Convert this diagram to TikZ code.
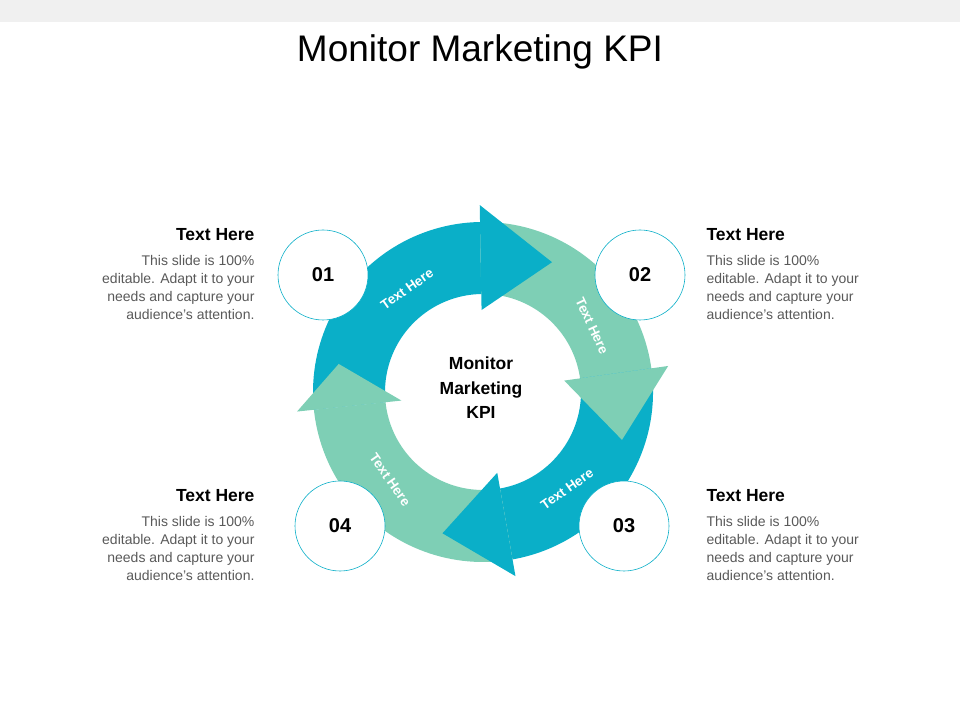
\documentclass[tikz,border=0pt]{standalone}
\usepackage{fontspec}
\setmainfont{Liberation Sans}
\definecolor{kpiblue}{HTML}{0AAFC8}
\definecolor{kpigreen}{HTML}{7ECFB5}
\definecolor{kpitext}{HTML}{595959}
\newcommand{\ringbody}[3]{\fill[#1] (#2:170pt) arc[start angle=#2, end angle=#3, radius=170pt] -- (#3:98pt) arc[start angle=#3, end angle=#2, radius=98pt] -- cycle;}
\newcommand{\ringhead}[3]{\fill[#1] (#2:187pt) -- (#3:147pt) -- (#2:82pt) -- cycle;}
\begin{document}
\begin{tikzpicture}[
    x=1pt, y=1pt,
    numcircle/.style={circle, draw=kpiblue, line width=0.6pt, fill=white, minimum size=90pt, font=\fontsize{20}{24}\selectfont\bfseries},
    heading/.style={font=\fontsize{17.5}{20}\selectfont\bfseries},
    para/.style={font=\fontsize{14}{18}\selectfont, text=kpitext},
    arclabel/.style={text=white, font=\fontsize{13.5}{15}\selectfont\bfseries}
]
\useasboundingbox (0,0) rectangle (960,720);
\fill[black!6] (0,698) rectangle (960,720);

% Title
\node[font=\fontsize{37}{42}\selectfont] (title) at (480,668) {Monitor Marketing KPI};

% Ring of arrows
\begin{scope}[shift={(483,328)}]
\ringbody{kpiblue}{186}{91}
\ringbody{kpigreen}{91}{8}
\ringbody{kpiblue}{8}{-80}
\ringbody{kpigreen}{-80}{-174}
\ringhead{kpiblue}{91}{62}
\ringhead{kpigreen}{8}{-19}
\ringhead{kpiblue}{-80}{-106}
\ringhead{kpigreen}{-174}{-191}
\end{scope}

% Labels on the arrows
\node[arclabel, rotate=35] (lab1) at (407,431) {Text Here};
\node[arclabel, rotate=-65] (lab2) at (592,394) {Text Here};
\node[arclabel, rotate=35] (lab3) at (567,231) {Text Here};
\node[arclabel, rotate=-55] (lab4) at (390,240) {Text Here};

% Centre
\node[align=center, font=\fontsize{17.5}{24.5}\selectfont\bfseries] (centre) at (481,332) {Monitor\\Marketing\\KPI};

% Number circles
\node[numcircle] (n1) at (323,445) {01};
\node[numcircle] (n2) at (640,445) {02};
\node[numcircle] (n3) at (624,194) {03};
\node[numcircle] (n4) at (340,194) {04};

% Side texts
\node[heading, anchor=east] (h1) at (258,485) {Text Here};
\node[para, anchor=north east, align=right] (p1) at (258,468) {This slide is 100\%\\editable. Adapt it to your\\needs and capture your\\audience's attention.};
\node[heading, anchor=west] (h2) at (703,485) {Text Here};
\node[para, anchor=north west, align=left] (p2) at (703,468) {This slide is 100\%\\editable. Adapt it to your\\needs and capture your\\audience's attention.};
\node[heading, anchor=east] (h4) at (258,224) {Text Here};
\node[para, anchor=north east, align=right] (p4) at (258,207) {This slide is 100\%\\editable. Adapt it to your\\needs and capture your\\audience's attention.};
\node[heading, anchor=west] (h3) at (703,224) {Text Here};
\node[para, anchor=north west, align=left] (p3) at (703,207) {This slide is 100\%\\editable. Adapt it to your\\needs and capture your\\audience's attention.};

\end{tikzpicture}
\end{document}
